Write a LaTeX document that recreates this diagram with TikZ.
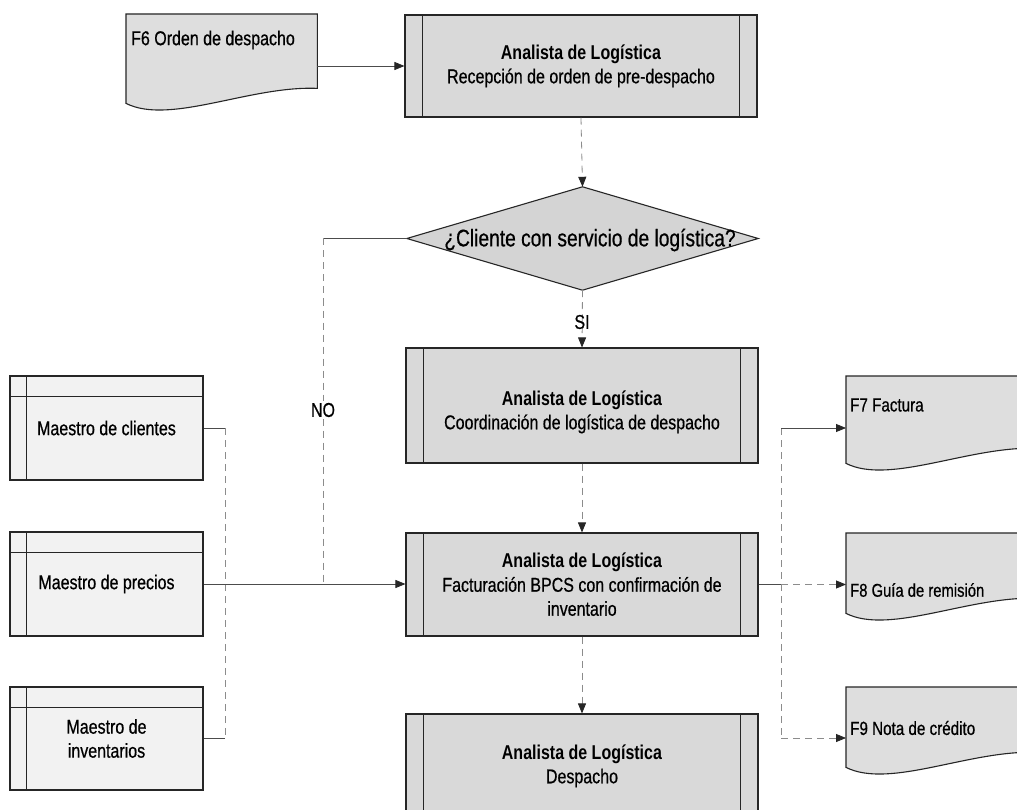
\documentclass[tikz,border=0pt]{standalone}
\usepackage{fontspec}
\setmainfont{Liberation Sans}[FakeStretch=0.8, UprightFeatures={FakeBold=0.6}]
\usetikzlibrary{arrows.meta,calc}
\definecolor{procfill}{gray}{0.85}
\definecolor{docfill}{gray}{0.87}
\definecolor{decfill}{gray}{0.83}
\definecolor{storefill}{gray}{0.95}
\definecolor{edge}{gray}{0.15}
\tikzset{
  proc/.style={draw=edge, line width=1.1pt, fill=procfill, rectangle, minimum width=352pt, align=center, inner sep=0pt},
  store/.style={draw=edge, line width=1.1pt, fill=storefill, rectangle, minimum width=193pt, align=center, inner sep=0pt},
  decision/.style={rectangle, minimum width=351pt, minimum height=103pt, inner sep=0pt, align=center},
  docbox/.style={rectangle, minimum width=191pt, inner sep=0pt, anchor=north west},
  doctext/.style={anchor=west, inner sep=0pt},
  docline/.style={draw=edge, line width=1.1pt, fill=docfill},
  barline/.style={draw=edge, line width=1.1pt},
  conn/.style={draw=black!70, line width=0.8pt},
  faint/.style={draw=black!45, line width=0.8pt, dash pattern=on 7pt off 5pt},
  tip/.style={-{Triangle[length=10pt,width=8pt,fill=edge,color=edge]}},
}
\newcommand\procbars[1]{\draw[barline] ($(#1.north west)+(18,0)$) -- ($(#1.south west)+(18,0)$) ($(#1.north east)+(-18,0)$) -- ($(#1.south east)+(-18,0)$);}
\newcommand\storelines[1]{\draw[barline] ($(#1.north west)+(17,0)$) -- ($(#1.south west)+(17,0)$) ($(#1.north west)+(0,21)$) -- ($(#1.north east)+(0,21)$);}
\newcommand\docshape[1]{\draw[docline] (#1.north west) -- (#1.north east) -- (#1.south east) .. controls ($(#1.south east)+(-67,-3)$) and ($(#1.south west)+(44,37)$) .. ($(#1.south west)+(0,15)$) -- cycle;}
\begin{document}
\begin{tikzpicture}[x=1pt,y=-1pt,font=\fontsize{20}{24}\selectfont]
\useasboundingbox (0,0) rectangle (1017,810);
\fill[white] (0,0) rectangle (1017,810);
\clip (0,0) rectangle (1017,810);

% documents
\node[docbox, minimum height=74pt] (f6) at (126,14) {};
\docshape{f6}
\node[doctext] (f6t) at (131,40) {F6 Orden de despacho};
\node[docbox, minimum height=72pt] (f7) at (846,376) {};
\docshape{f7}
\node[doctext, font=\fontsize{19}{23}\selectfont] (f7t) at (850,405) {F7 Factura};
\node[docbox, minimum height=65pt] (f8) at (846,533) {};
\docshape{f8}
\node[doctext, font=\fontsize{18.5}{23}\selectfont] (f8t) at (850,590) {F8 Guía de remisión};
\node[docbox, minimum height=65pt] (f9) at (846,687) {};
\docshape{f9}
\node[doctext, font=\fontsize{19}{23}\selectfont] (f9t) at (850,728) {F9 Nota de crédito};

% processes
\node[proc, minimum height=102pt] (p1) at (581,66) {\textbf{Analista de Logística}\\Recepción de orden de pre-despacho};
\procbars{p1}
\node[proc, minimum height=115pt] (p2) at (582,405.5) {};
\procbars{p2}
\node[align=center, inner sep=0pt] (p2t) at (582,412) {\textbf{Analista de Logística}\\Coordinación de logística de despacho};
\node[proc, minimum height=103pt] (p3) at (582,584.5) {\textbf{Analista de Logística}\\Facturación BPCS con confirmación de\\inventario};
\procbars{p3}
\node[proc, minimum height=104pt] (p4) at (582,766) {\textbf{Analista de Logística}\\Despacho};
\procbars{p4}

% decision
\node[decision] (dec) at (582.5,238.5) {};
\draw[docline, fill=decfill] (dec.north) -- (dec.east) -- (dec.south) -- (dec.west) -- cycle;
\node[font=\fontsize{24}{28}\selectfont] (dect) at (590,240) {¿Cliente con servicio de logística?};

% stores
\node[store, minimum height=104pt] (mc) at (106.5,428) {Maestro de clientes};
\storelines{mc}
\node[store, minimum height=104pt] (mp) at (106.5,584) {Maestro de precios};
\storelines{mp}
\node[store, minimum height=103pt] (mi) at (106.5,738.5) {Maestro de\\inventarios};
\storelines{mi}

% helper coordinates
\coordinate (nox) at (323,238.5);
\coordinate (lb) at (225,0);
\coordinate (rb7) at (781,428);
\coordinate (rb8) at (781,584.5);
\coordinate (rb9) at (781,738);

% connectors
\draw[conn, tip] (f6.east |- p1.west) -- (p1.west);
\draw[faint, tip] (p1.south) -- (dec.north);
\draw[faint, tip] (dec.south) -- (p2.north);
\draw[conn] (dec.west) -- (nox);
\draw[faint] (nox) -- (nox |- p3.west);
\draw[conn] (mc.east) -- (mc.east -| lb);
\draw[faint] (mc.east -| lb) -- (mi.east -| lb);
\draw[conn] (mi.east) -- (mi.east -| lb);
\draw[conn, tip] (mp.east) -- (mp.east -| p3.west);
\draw[faint, tip] (p2.south) -- (p3.north);
\draw[faint, tip] (p3.south) -- (p4.north);
\draw[conn] (p3.east) -- (rb8);
\draw[faint] (rb7) -- (rb9);
\draw[conn, tip] (rb7) -- (rb7 -| f7.west);
\draw[faint, tip] (rb8) -- (rb8 -| f8.west);
\draw[faint, tip] (rb9) -- (rb9 -| f9.west);

% labels
\node (si) at (582,322) {SI};
\node[fill=white, inner sep=2pt] (no) at (323,410) {NO};
\end{tikzpicture}
\end{document}
